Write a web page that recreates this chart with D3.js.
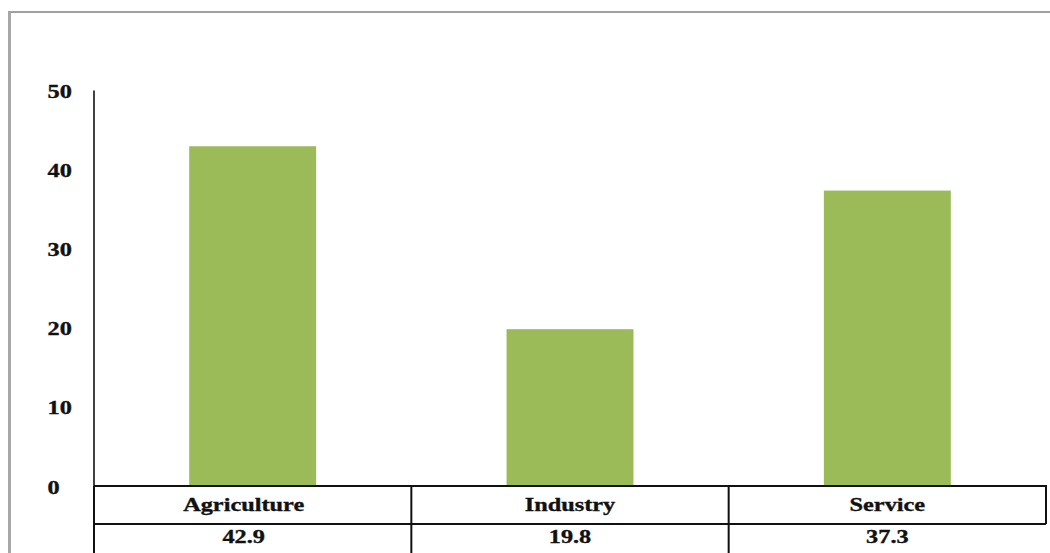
<!DOCTYPE html>
<html>
<head>
<meta charset="utf-8">
<script src="https://cdn.jsdelivr.net/npm/d3@7"></script>
<style>
  html, body { margin: 0; padding: 0; background: #fff; }
  svg { display: block; }
  text { font-family: "Liberation Serif", "Times New Roman", serif; font-weight: bold; fill: #111; stroke: #111; stroke-width: 0.35px; }
</style>
</head>
<body>
<svg id="chart" width="1050" height="553"></svg>
<script>
// Employment share by sector (%)
const categories = ["Agriculture", "Industry", "Service"];
const values = [42.9, 19.8, 37.3];
const yTicks = [0, 10, 20, 30, 40, 50];

const W = 1050, H = 553;
const svg = d3.select("#chart");
const stretch = 1.28; // wide serif lettering
const fontSize = 19;

// outer frame (top and left edges)
svg.append("line").attr("x1", 8).attr("x2", W).attr("y1", 12).attr("y2", 12)
  .attr("stroke", "#a0a0a0").attr("stroke-width", 2);
svg.append("line").attr("x1", 9.5).attr("x2", 9.5).attr("y1", 12).attr("y2", H)
  .attr("stroke", "#a8a8a8").attr("stroke-width", 3);

const plotLeft = 94, plotRight = 1046;
const y = d3.scaleLinear().domain([0, 50]).range([486, 90]);
const x = d3.scaleBand().domain(categories).range([plotLeft, plotRight]).padding(0);

// bars
svg.append("g").selectAll("rect").data(values).join("rect")
  .attr("x", (d, i) => x(categories[i]) + x.bandwidth() * 0.3)
  .attr("width", x.bandwidth() * 0.4)
  .attr("y", d => y(d))
  .attr("height", d => y(0) - y(d))
  .attr("fill", "#9bbb59");

// y axis
const yAxis = svg.append("g").attr("transform", `translate(${plotLeft - 0.5},0)`)
  .call(d3.axisLeft(y).tickValues(yTicks).tickSize(0).tickSizeOuter(0));
yAxis.select(".domain").attr("stroke", "#111").attr("stroke-width", 1.6);
yAxis.selectAll(".tick text")
  .attr("x", null)
  .attr("text-anchor", "start")
  .attr("font-size", fontSize)
  .attr("font-family", null)
  .attr("fill", "#111")
  .attr("transform", `translate(${48 - plotLeft},1) scale(${stretch},1)`);

// data table below the plot
const rowTop = 486, rowMid = 524;
const grid = svg.append("g").attr("stroke", "#111").attr("stroke-width", 2);
grid.append("line").attr("x1", plotLeft).attr("x2", plotRight + 1).attr("y1", rowTop).attr("y2", rowTop);
grid.append("line").attr("x1", plotLeft).attr("x2", plotRight).attr("y1", rowMid).attr("y2", rowMid);
categories.forEach(c => {
  grid.append("line").attr("x1", x(c)).attr("x2", x(c)).attr("y1", rowTop).attr("y2", H);
});
grid.append("line").attr("x1", plotRight).attr("x2", plotRight).attr("y1", rowTop).attr("y2", rowMid);

function wideText(g, cx, by, str) {
  g.append("text")
    .attr("transform", `translate(${cx},${by}) scale(${stretch},1)`)
    .attr("text-anchor", "middle")
    .attr("font-size", fontSize)
    .text(str);
}
const labels = svg.append("g");
categories.forEach((c, i) => {
  const cx = x(c) + x.bandwidth() / 2 - (i === 0 ? 9 : 0);
  wideText(labels, cx, 511, c);
  wideText(labels, cx, 543, values[i].toFixed(1));
});
</script>
</body>
</html>
